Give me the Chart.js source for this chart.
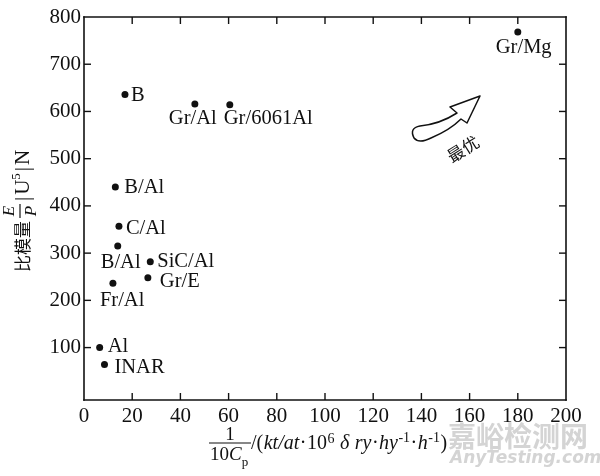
<!DOCTYPE html>
<html><head><meta charset="utf-8">
<script src="https://cdn.jsdelivr.net/npm/chart.js@4/dist/chart.umd.min.js"></script>
<style>html,body{margin:0;padding:0;background:#fff}#wrap{width:600px;height:476px}</style>
</head><body><div id="wrap"><canvas id="c" width="600" height="476"></canvas></div>
<script>
// ---- data ----
const materials = ['B','Gr/Al','Gr/6061Al','Gr/Mg','B/Al','C/Al','B/Al','SiC/Al','Gr/E','Fr/Al','Al','INAR'];
const costIndex = [17, 46, 60.5, 180, 13, 14.5, 14, 27.5, 26.5, 12, 6.5, 8.5];
const specificModulus = [636, 616, 614, 768, 440, 357, 315, 282, 248, 236, 100, 64];
const xTickValues = [0,20,40,60,80,100,120,140,160,180,200];
const yTickValues = [100,200,300,400,500,600,700,800];

// ---- styling (label offsets in px relative to each point) ----
const labelOffsets = [[6,1],[-26,15],[-6,14],[-22,15],[9,1],[7,2],[-17,17],[7,0],[12,4],[-13,17],[8,-1],[10,3]];
const SERIF = "'Liberation Serif','DejaVu Serif',serif";
const CJK = "'Noto Sans CJK SC',sans-serif";
const INK = '#111111';

const points = costIndex.map((x,i)=>({x, y: specificModulus[i]}));

function line(ctx,x1,y1,x2,y2){ ctx.beginPath(); ctx.moveTo(x1,y1); ctx.lineTo(x2,y2); ctx.stroke(); }

const decor = {
  id:'decor',
  afterDraw(chart){
    const ctx = chart.ctx;
    const xs = chart.scales.x, ys = chart.scales.y;
    const L = xs.left, R = xs.right, T = ys.top, B = ys.bottom;
    ctx.save();
    ctx.setLineDash([]);
    ctx.globalAlpha = 1;
    // frame
    ctx.strokeStyle = INK; ctx.lineWidth = 1.6; ctx.lineCap = 'square';
    line(ctx, L, T, R, T);
    line(ctx, R, T, R, B);
    line(ctx, R, B, L, B);
    line(ctx, L, B, L, T);
    // inward ticks
    ctx.lineWidth = 1.4; ctx.lineCap = 'butt';
    const tl = 7;
    xTickValues.forEach(v=>{
      if (v===0 || v===200) return;
      const p = xs.getPixelForValue(v);
      line(ctx, p, B, p, B-tl);
      line(ctx, p, T, p, T+tl);
    });
    yTickValues.forEach(v=>{
      if (v===800) return;
      const p = ys.getPixelForValue(v);
      line(ctx, L, p, L+tl, p);
      line(ctx, R, p, R-tl, p);
    });
    // point labels
    ctx.fillStyle = INK;
    ctx.font = "20.5px " + SERIF;
    ctx.textAlign = 'left'; ctx.textBaseline = 'middle';
    const meta = chart.getDatasetMeta(0);
    meta.data.forEach((el,i)=>{
      const o = labelOffsets[i];
      ctx.fillText(materials[i], el.x + o[0], el.y + o[1]);
    });

    // arrow "最优"
    ctx.lineWidth = 1.5; ctx.strokeStyle = INK; ctx.lineJoin='round';
    ctx.beginPath();
    ctx.moveTo(480,96);
    ctx.lineTo(450,107);
    ctx.lineTo(457,113);
    ctx.quadraticCurveTo(440,124,420,126);
    ctx.quadraticCurveTo(409,128,414,138);
    ctx.quadraticCurveTo(419,144,431,138);
    ctx.quadraticCurveTo(450,130,461,119);
    ctx.lineTo(467,123);
    ctx.closePath();
    ctx.stroke();
    ctx.save();
    ctx.translate(463,149); ctx.rotate(-32*Math.PI/180);
    ctx.font = "17px " + CJK; ctx.textAlign='center'; ctx.textBaseline='middle';
    ctx.fillText('最优',0,0);
    ctx.restore();

    // y axis title (rotated)
    ctx.save();
    ctx.translate(22, 207); ctx.rotate(-Math.PI/2);
    ctx.textBaseline = 'middle'; ctx.textAlign = 'left';
    let x0 = -65;
    ctx.font = "17px " + CJK;
    ctx.fillText('比模量', x0, 1);
    x0 += ctx.measureText('比模量').width + 3;
    ctx.font = "italic 17px " + SERIF;
    const fw = 14;
    ctx.textAlign='center';
    ctx.fillText('E', x0+fw/2, -12);
    ctx.fillText('P', x0+fw/2, 10);
    ctx.lineWidth = 1.2;
    line(ctx, x0, -2, x0+fw, -2);
    x0 += fw + 3;
    ctx.textAlign='left';
    const yParts = [['|',"21px",1,2],['U',"21px",1,0],['5',"13px",-5,2],['|',"21px",1,2],['N',"21px",1,0]];
    yParts.forEach(p=>{
      ctx.font = p[1] + " " + SERIF;
      ctx.fillText(p[0], x0, p[2]);
      x0 += ctx.measureText(p[0]).width + p[3];
    });
    ctx.restore();

    // x axis title
    ctx.textBaseline = 'alphabetic'; ctx.textAlign='center';
    ctx.font = "19px " + SERIF;
    ctx.fillText('1', 230, 440);
    ctx.lineWidth = 1.2;
    line(ctx, 209, 443, 251, 443);
    ctx.textAlign='left';
    let fx = 210;
    ctx.font = "19px " + SERIF; ctx.fillText('10', fx, 460); fx += ctx.measureText('10').width;
    ctx.font = "italic 19px " + SERIF; ctx.fillText('C', fx, 460); fx += ctx.measureText('C').width;
    ctx.font = "13px " + SERIF; ctx.fillText('p', fx, 466);
    const parts = [
      ['/(', "20px", 0],
      ['kt/at', "italic 20px", 0],
      ['\u00b7', "20px", 0],
      ['10', "20px", 0],
      ['6', "14px", -6],
      [' \u03b4', "italic 20px", 0],
      [' ry', "italic 20px", 0],
      ['\u00b7', "20px", 0],
      ['hy', "italic 20px", 0],
      ['-1', "14px", -7],
      ['\u00b7', "20px", 0],
      ['h', "italic 20px", 0],
      ['-1', "14px", -7],
      [')', "20px", 0]
    ];
    let px = 251;
    parts.forEach(p=>{
      ctx.font = p[1] + " " + SERIF;
      ctx.fillText(p[0], px, 449 + p[2]);
      px += ctx.measureText(p[0]).width + 0.5;
    });

    // watermark
    ctx.fillStyle = '#d4d4d4';
    ctx.font = "bold 28px " + CJK; ctx.textAlign='left'; ctx.textBaseline='middle';
    ctx.fillText('嘉峪检测网', 448, 436);
    ctx.font = "italic bold 17px 'DejaVu Sans',sans-serif";
    ctx.fillText('AnyTesting.com', 450, 459);
    ctx.restore();
  }
};

new Chart(document.getElementById('c'), {
  type:'scatter',
  data:{ datasets:[{ data: points, pointRadius:3.5, pointHoverRadius:3.5,
    backgroundColor: INK, borderColor: INK, borderWidth:0 }]},
  options:{
    responsive:false, animation:false, devicePixelRatio:1,
    layout:{ padding:{ left:0, right:34, top:17, bottom:0 } },
    plugins:{ legend:{display:false}, tooltip:{enabled:false} },
    scales:{
      x:{ type:'linear', min:0, max:200,
        afterBuildTicks: s => { s.ticks = xTickValues.map(v=>({value:v})); },
        afterFit: s => { s.height = 76; },
        grid:{ display:false, drawTicks:false }, border:{ display:false },
        ticks:{ autoSkip:false, maxRotation:0, padding:4, color:INK, font:{ family:SERIF, size:21 } } },
      y:{ type:'linear', min:-11, max:800,
        afterBuildTicks: s => { s.ticks = yTickValues.map(v=>({value:v})); },
        afterFit: s => { s.width = 84; },
        grid:{ display:false, drawTicks:false }, border:{ display:false },
        ticks:{ autoSkip:false, padding:3, color:INK, font:{ family:SERIF, size:21 } } }
    }
  },
  plugins:[decor]
});
</script></body></html>
